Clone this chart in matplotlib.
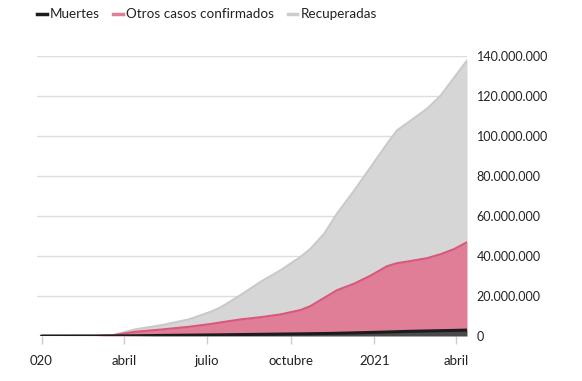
import numpy as np
import pandas as pd
import matplotlib
matplotlib.use('Agg')
import matplotlib.pyplot as plt
from matplotlib.lines import Line2D
from matplotlib.ticker import FuncFormatter

plt.rcParams['font.family'] = ['Lato', 'DejaVu Sans']

# ==== datos (millones) ====
fechas = ['2020-01-01', '2020-03-01', '2020-03-20', '2020-04-13', '2020-05-13', '2020-06-11',
          '2020-07-05', '2020-07-16', '2020-08-07', '2020-08-29', '2020-09-20', '2020-10-12',
          '2020-10-23', '2020-11-07', '2020-11-21', '2020-12-10', '2020-12-28', '2021-01-15',
          '2021-01-26', '2021-02-10', '2021-02-28', '2021-03-15', '2021-03-30', '2021-04-13']
muertes = [0.0, 0.003, 0.01, 0.12, 0.29, 0.42, 0.54, 0.58, 0.72, 0.84, 0.96, 1.08,
           1.15, 1.24, 1.36, 1.58, 1.78, 2.0, 2.15, 2.35, 2.52, 2.66, 2.80, 2.96]
# tope de la franja rosa (muertes + otros casos confirmados)
tope_confirmados = [0.0, 0.06, 0.4, 2.1, 3.3, 4.6, 6.0, 6.8, 8.3, 9.4, 10.8, 13.0,
                    15.0, 19.1, 22.9, 26.2, 30.2, 34.9, 36.4, 37.5, 38.9, 40.9, 43.5, 46.9]
# tope de la franja gris (total de casos)
total_casos = [0.0, 0.09, 0.5, 3.3, 5.5, 8.3, 12.1, 14.3, 20.5, 27.1, 32.9, 39.6,
               43.7, 51.2, 61.2, 72.8, 84.4, 96.1, 102.8, 107.7, 113.6, 120.2, 129.3, 137.7]

x_ticks = ['2020-01-01', '2020-04-01', '2020-07-01', '2020-10-01', '2021-01-01', '2021-04-01']
x_labels = ['020', 'abril', 'julio', 'octubre', '2021', 'abril']
y_ticks = [0, 20, 40, 60, 80, 100, 120, 140]

df = pd.DataFrame({'fecha': pd.to_datetime(fechas), 'muertes': muertes,
                   'confirmados': tope_confirmados, 'total': total_casos})
for c in ['muertes', 'confirmados', 'total']:
    df[c] = df[c] * 1e6

c_negro = '#1c1c1c'
c_negro_f = '#4a4a4a'
c_rosa = '#df7e96'
c_rosa_l = '#d8577c'
c_gris = '#d6d6d6'
c_gris_l = '#c9c9c9'
c_texto = '#222222'

fig = plt.figure(figsize=(5.82, 3.81), dpi=100)
ax = fig.add_axes([37/582, 1 - 336/381, 430/582, 280/381])

ax.fill_between(df['fecha'], df['confirmados'], df['total'], color=c_gris, lw=0, zorder=2)
ax.plot(df['fecha'], df['total'], color=c_gris_l, lw=1.5, zorder=3)
ax.fill_between(df['fecha'], df['muertes'], df['confirmados'], color=c_rosa, lw=0, zorder=4)
ax.plot(df['fecha'], df['confirmados'], color=c_rosa_l, lw=1.5, zorder=5)
ax.fill_between(df['fecha'], 0, df['muertes'], color=c_negro_f, lw=0, zorder=6)
ax.plot(df['fecha'], df['muertes'], color=c_negro, lw=2.2, solid_capstyle='round', zorder=7)

ax.set_xlim(pd.Timestamp('2019-12-27'), pd.Timestamp('2021-04-13'))
ax.set_ylim(0, 140e6)

ax.set_yticks([v * 1e6 for v in y_ticks])
ax.yaxis.set_major_formatter(FuncFormatter(lambda v, p: f'{int(v):,}'.replace(',', '.')))
ax.yaxis.tick_right()
ax.tick_params(axis='y', length=0, pad=7, labelsize=9, labelcolor=c_texto)
ax.grid(axis='y', color='#dddddd', lw=1, zorder=0)

ax.set_xticks(pd.to_datetime(x_ticks))
ax.set_xticklabels(x_labels)
ax.tick_params(axis='x', length=6, width=1, color='#cccccc', pad=8, labelsize=9.5,
               labelcolor=c_texto)

for s in ax.spines.values():
    s.set_visible(False)

handles = [Line2D([], [], color=c_negro, lw=2.5),
           Line2D([], [], color=c_rosa, lw=2.5),
           Line2D([], [], color='#cccccc', lw=2.5)]
fig.legend(handles, ['Muertes', 'Otros casos confirmados', 'Recuperadas'],
           loc='upper left', bbox_to_anchor=(0.043, 1.01), ncol=3, frameon=False,
           handlelength=0.7, handletextpad=0.25, columnspacing=1.0, fontsize=9.7,
           labelcolor=c_texto)

fig.savefig('out.png', dpi=100)
